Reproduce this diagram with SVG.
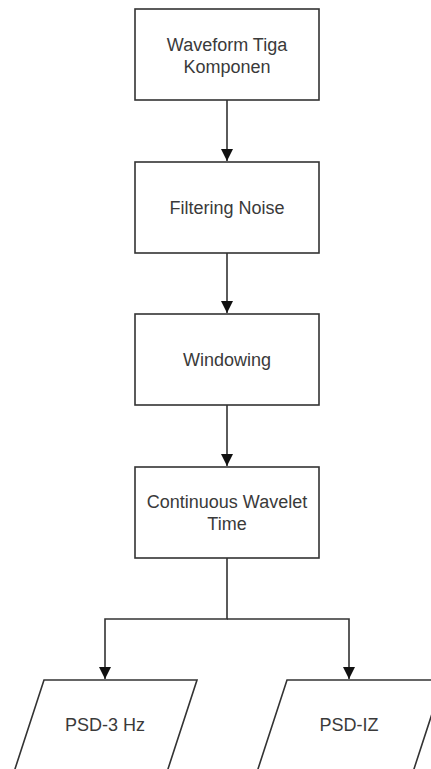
<svg xmlns="http://www.w3.org/2000/svg" width="431" height="769" viewBox="0 0 431 769">
<style>
.box{fill:#fff;stroke:#333;stroke-width:1.6}
.t{font-family:"Liberation Sans",Arial,sans-serif;font-size:18px;fill:#3a3a3a;text-anchor:middle}
.c{fill:none;stroke:#333;stroke-width:1.6}
</style>
<defs>
<marker id="ah" viewBox="0 0 12 12" refX="12" refY="6" markerWidth="12" markerHeight="12" markerUnits="userSpaceOnUse" orient="auto">
<path d="M0,0 L12,6 L0,12 Z" fill="#111"/>
</marker>
</defs>
<rect width="431" height="769" fill="#fff"/>
<g id="connectors">
<line class="c" x1="227" y1="100" x2="227" y2="161" marker-end="url(#ah)"/>
<line class="c" x1="227" y1="253" x2="227" y2="313" marker-end="url(#ah)"/>
<line class="c" x1="227" y1="405" x2="227" y2="466" marker-end="url(#ah)"/>
<polyline class="c" points="227,558 227,619 105,619 105,679" marker-end="url(#ah)"/>
<polyline class="c" points="227,619 349,619 349,679" marker-end="url(#ah)"/>
</g>
<g id="n1">
<rect class="box" x="135" y="9" width="184" height="91"/>
<text class="t" x="227" y="51">Waveform Tiga</text>
<text class="t" x="227" y="73">Komponen</text>
</g>
<g id="n2">
<rect class="box" x="135" y="162" width="184" height="91"/>
<text class="t" x="227" y="214">Filtering Noise</text>
</g>
<g id="n3">
<rect class="box" x="135" y="314" width="184" height="91"/>
<text class="t" x="227" y="366">Windowing</text>
</g>
<g id="n4">
<rect class="box" x="135" y="467" width="184" height="91"/>
<text class="t" x="227" y="508">Continuous Wavelet</text>
<text class="t" x="227" y="530">Time</text>
</g>
<g id="n5">
<polygon class="box" points="44,680 197,680 167,772 14,772"/>
<text class="t" x="105" y="731">PSD-3 Hz</text>
</g>
<g id="n6">
<polygon class="box" points="287,680 443,680 413,772 257,772"/>
<text class="t" x="349" y="731">PSD-IZ</text>
</g>
</svg>
